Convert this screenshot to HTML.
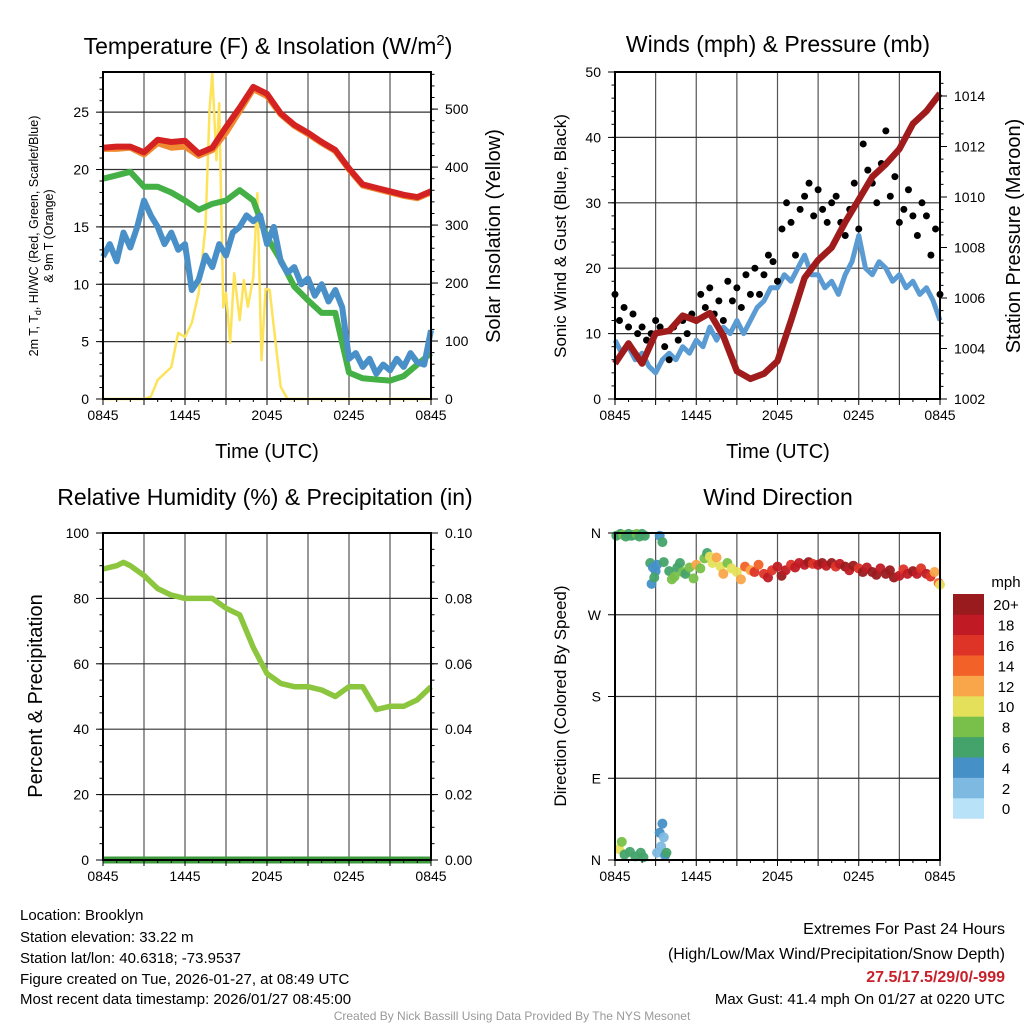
<!DOCTYPE html>
<html><head><meta charset="utf-8"><style>
html,body{margin:0;padding:0;background:#fff;width:1024px;height:1024px;overflow:hidden}
svg{display:block;font-family:"Liberation Sans",Arial,sans-serif}
</style></head><body>
<svg id="chart" width="1024" height="1024" viewBox="0 0 1024 1024" xmlns="http://www.w3.org/2000/svg">
<rect x="0" y="0" width="1024" height="1024" fill="#fff"/>
<g id="layer"></g>
</svg>
<script>
// ---------- DATA ----------
const xTickLabels = ["0845","1445","2045","0245","0845"];
const hourly = [0,1,2,3,4,5,6,7,8,9,10,11,12,13,14,15,16,17,18,19,20,21,22,23,24];
const halfHourly = [0,0.5,1,1.5,2,2.5,3,3.5,4,4.5,5,5.5,6,6.5,7,7.5,8,8.5,9,9.5,10,10.5,11,11.5,12,12.5,13,13.5,14,14.5,15,15.5,16,16.5,17,17.5,18,18.5,19,19.5,20,20.5,21,21.5,22,22.5,23,23.5,24];
const tempRed = [21.9,22.0,22.0,21.5,22.6,22.4,22.5,21.4,21.9,23.7,25.4,27.2,26.6,24.9,23.9,23.2,22.4,21.7,20.1,18.7,18.4,18.1,17.8,17.6,18.1];
const tempOrange = [21.8,21.8,21.9,21.3,22.3,21.9,22.0,21.2,21.7,23.2,25.1,27.0,26.4,24.8,23.8,23.1,22.3,21.6,20.0,18.6,18.3,18.0,17.7,17.5,18.0];
const dewGreen = [19.2,19.5,19.8,18.5,18.5,18.0,17.3,16.5,17.0,17.3,18.2,17.3,14.1,12.1,9.8,8.6,7.5,7.5,2.3,1.8,1.7,1.6,2.0,3.0,4.0];
const wcBlue = [12.4,13.5,12.0,14.5,13.2,15.0,17.3,16.0,15.0,13.5,14.5,13.0,13.5,9.5,10.4,12.5,11.5,13.5,12.5,14.5,15.0,16.0,15.5,16.0,13.5,15.0,12.0,11.0,11.5,10.0,10.5,9.0,10.0,8.5,9.5,8.0,3.5,4.0,2.8,3.5,2.2,3.0,2.5,3.5,2.8,4.0,3.2,3.0,6.0];
const solarT = [0,3,3.5,4,5,5.5,6,6.5,7,7.5,7.8,8.0,8.3,8.5,8.8,9.0,9.3,9.6,10.0,10.3,10.6,11.0,11.3,11.6,11.9,12.2,12.5,13.0,13.5,24];
const solarV = [0,0,4,33,55,114,107,131,183,297,500,562,412,510,158,183,97,217,136,205,159,210,355,67,190,188,124,21,0,0];
const windBlue = [9,7,8,6,7,5,4,6,7,6,8,7,9,8,11,9,11,10,12,10,12,14,15,17,17,19,18,20,22,19,19,17,18,16,19,21,25,20,19,21,20,18,19,17,18,16,17,15,12];
const gustT = [0,0.33,0.67,1,1.33,1.67,2,2.33,2.67,3,3.33,3.67,4,4.33,4.67,5,5.33,5.67,6,6.33,6.67,7,7.33,7.67,8,8.33,8.67,9,9.33,9.67,10,10.33,10.67,11,11.33,11.67,12,12.33,12.67,13,13.33,13.67,14,14.33,14.67,15,15.33,15.67,16,16.33,16.67,17,17.33,17.67,18,18.33,18.67,19,19.33,19.67,20,20.33,20.67,21,21.33,21.67,22,22.33,22.67,23,23.33,23.67,24];
const gustV = [16,12,14,11,13,10,11,9,10,12,11,8,6,11,9,12,10,13,12,16,14,17,13,15,12,18,15,17,14,19,16,20,16,19,22,21,18,26,30,27,22,29,31,33,28,32,29,27,30,31,27,25,29,33,26,39,35,33,30,36,41,31,34,27,29,32,28,25,30,28,22,26,16];
const pressure = [1003.4,1004.2,1003.4,1004.6,1004.7,1005.3,1005.1,1005.4,1004.5,1003.1,1002.8,1003.0,1003.5,1005.1,1006.8,1007.5,1008.0,1009.0,1009.9,1010.8,1011.3,1011.9,1012.9,1013.4,1014.1];
const rhT = [0,1,1.5,2,3,4,5,6,7,8,9,10,11,12,13,14,15,16,17,18,19,20,21,22,23,24];
const rhV = [89,90,91,90,87,83,81,80,80,80,77,75,65,57,54,53,53,52,50,53,53,46,47,47,49,53];
const precipV = [0,0,0,0,0,0,0,0,0,0,0,0,0,0,0,0,0,0,0,0,0,0,0,0,0];
const dirT = [0.1,0.4,0.6,0.8,1.0,1.2,1.4,1.6,1.8,2.0,2.2,0.3,0.5,0.7,1.1,1.5,1.9,2.1,3.1,3.3,3.5,3.6,3.4,3.7,3.8,3.3,3.5,2.6,2.8,3.0,2.7,2.9,3.1,3.6,4.0,4.2,4.4,4.6,4.8,5.0,5.2,5.5,5.8,6.0,6.3,6.6,6.8,7.0,7.2,7.5,7.8,8.0,8.3,8.6,9.0,9.3,9.6,10.0,10.3,10.6,11.0,11.3,11.6,12.0,12.3,12.6,13.0,13.3,13.6,14.0,14.3,14.6,15.0,15.3,15.6,16.0,16.3,16.6,17.0,17.3,17.6,18.0,18.3,18.6,19.0,19.3,19.6,20.0,20.3,20.6,21.0,21.3,21.6,22.0,22.3,22.6,23.0,23.3,23.6,23.9,24.0];
const dirDeg = [357,359,358,356,359,357,358,359,356,359,357,12,20,6,9,4,8,3,8,30,40,25,15,5,8,357,350,327,322,318,304,311,325,328,318,309,312,322,327,317,315,322,310,325,321,332,338,334,327,333,323,315,327,321,317,309,323,319,317,325,315,311,319,323,313,319,325,322,327,325,328,326,325,327,324,327,323,326,323,319,324,321,317,322,317,314,321,315,319,311,313,320,315,318,315,321,315,312,317,305,303];
const dirSpd = [7,7,8,6,7,7,6,8,7,6,7,10,8,6,7,6,7,6,3,4,4,2,2,4,6,4,6,6,4,4,4,6,4,6,6,8,8,6,6,8,6,8,8,12,8,8,6,10,10,12,10,12,8,10,10,12,14,12,16,14,16,18,16,18,20,18,16,18,18,18,20,16,18,20,18,20,16,18,20,18,20,16,20,18,20,20,18,20,20,20,18,16,18,20,18,16,18,16,12,14,10];
const speedColors = ["#b8e2f8","#7eb9e2","#4690c8","#44a36a","#78c04a","#e5e05a","#f9a54a","#f26228","#de3427","#c01b25","#9a1b1e"];
const speedLabels = ["0","2","4","6","8","10","12","14","16","18","20+"];

// ---------- HELPERS ----------
const NS = "http://www.w3.org/2000/svg";
const layer = document.getElementById("layer");
function mk(tag, attrs, parent){
  const e = document.createElementNS(NS, tag);
  for (const k in attrs) e.setAttribute(k, attrs[k]);
  (parent||layer).appendChild(e);
  return e;
}
function txt(s, x, y, size, anchor, parent, extra){
  const e = mk("text", Object.assign({x:x, y:y, "font-size":size, "text-anchor":anchor||"start", fill:"#000"}, extra||{}), parent);
  e.textContent = s;
  return e;
}
function pathFrom(xs, ys){
  let d = "";
  for (let i=0;i<xs.length;i++) d += (i?"L":"M") + xs[i].toFixed(1) + " " + ys[i].toFixed(1);
  return d;
}

function panel(x0, x1, y0, y1){ return {x0, x1, y0, y1, sx: t => x0 + t*(x1-x0)/24}; }
const P1 = panel(103, 431, 72, 399);
const P2 = panel(615, 940, 72, 399);
const P3 = panel(103, 431, 533, 860);
const P4 = panel(615, 940, 533, 860);

function linY(p, lo, hi){ return v => p.y1 - (v-lo)*(p.y1-p.y0)/(hi-lo); }

function drawGrid(p, yMajors, yScale, name){
  const g = mk("g", {});
  
  
  for (let h=3; h<24; h+=3){
    const gl = mk("line", {x1:p.sx(h), x2:p.sx(h), y1:p.y0, y2:p.y1, stroke:"#555", "stroke-width":1.2}, g);
    
    
  }
  yMajors.forEach(v => {
    const y = yScale(v);
    if (y > p.y0+1 && y < p.y1-1){
      const gl = mk("line", {x1:p.x0, x2:p.x1, y1:y, y2:y, stroke:"#333", "stroke-width":1.2}, g);
      
      
    }
  });
}
function drawFrame(p, name){
  const r = mk("rect", {x:p.x0, y:p.y0, width:p.x1-p.x0, height:p.y1-p.y0, fill:"none", stroke:"#000", "stroke-width":2});
  
  
}
function drawXAxis(p, name){
  const g = mk("g", {});
  
  
  for (let h=0; h<=24; h+=1){
    const len = (h%3===0)?6:3;
    mk("line", {x1:p.sx(h), x2:p.sx(h), y1:p.y1, y2:p.y1+len, stroke:"#000", "stroke-width":1}, g);
  }
  xTickLabels.forEach((s,i) => {
    const t = txt(s, p.sx(i*6), p.y1+21, 14, "middle", g);
    
    
  });
}
function drawYAxis(p, majors, labels, scale, side, minorStep, lo, hi, name){
  const g = mk("g", {});
  
  
  const xa = side==="left" ? p.x0 : p.x1;
  const dir = side==="left" ? -1 : 1;
  if (minorStep){
    for (let v=lo; v<=hi+1e-9; v+=minorStep){
      const y = scale(v);
      if (y < p.y0-0.5) continue;
      mk("line", {x1:xa, x2:xa+dir*3.5, y1:y, y2:y, stroke:"#000", "stroke-width":1}, g);
    }
  }
  majors.forEach((v,i) => {
    const y = scale(v);
    mk("line", {x1:xa, x2:xa+dir*7, y1:y, y2:y, stroke:"#000", "stroke-width":1}, g);
    const t = txt(labels[i], side==="left" ? xa-14 : xa+14, y+5, 14, side==="left" ? "end" : "start", g);
    
    
  });
}
function rotLabel(s, x, y, size, angle, name){
  const t = txt(s, x, y, size, "middle", layer, {transform:`rotate(${angle} ${x} ${y})`});
  
  
  return t;
}

// ---------- PANEL 1: Temperature ----------
const p1y = linY(P1, 0, 28.5);
const p1r = linY(P1, 0, 564);
drawGrid(P1, [0,5,10,15,20,25], p1y, "temperature");
(function(){
  const ySolar = mk("path", {d: pathFrom(solarT.map(P1.sx), solarV.map(p1r)), fill:"none", stroke:"#fde35a", "stroke-width":2.5, "stroke-linejoin":"round"});
  
  
  const g = mk("path", {d: pathFrom(hourly.map(P1.sx), dewGreen.map(p1y)), fill:"none", stroke:"#44b045", "stroke-width":6, "stroke-linejoin":"round"});
  
  
  const b = mk("path", {d: pathFrom(halfHourly.map(P1.sx), wcBlue.map(p1y)), fill:"none", stroke:"#4a90c8", "stroke-width":6, "stroke-linejoin":"round"});
  
  
  const o = mk("path", {d: pathFrom(hourly.map(P1.sx), tempOrange.map(p1y)), fill:"none", stroke:"#f08a30", "stroke-width":6, "stroke-linejoin":"round"});
  
  
  const r = mk("path", {d: pathFrom(hourly.map(P1.sx), tempRed.map(p1y)), fill:"none", stroke:"#d42121", "stroke-width":6, "stroke-linejoin":"round"});
  
  
})();
drawFrame(P1, "temperature");
drawXAxis(P1, "temperature");
drawYAxis(P1, [0,5,10,15,20,25], ["0","5","10","15","20","25"], p1y, "left", 1, 0, 28, "temperature-left-axis");
drawYAxis(P1, [0,100,200,300,400,500], ["0","100","200","300","400","500"], p1r, "right", 20, 0, 560, "insolation-right-axis");
(function(){
  const t = txt("", 268, 54, 23, "middle");
  
  
  t.innerHTML = 'Temperature (F) &amp; Insolation (W/m<tspan dy="-9" font-size="15">2</tspan><tspan dy="9">)</tspan>';
})();
(function(){
  const t = txt("", 38, 236, 12.5, "middle", layer, {transform:"rotate(-90 38 236)"});
  
  
  t.innerHTML = '2m T, T<tspan dy="3" font-size="9">d</tspan><tspan dy="-3">, HI/WC (Red, Green, Scarlet/Blue)</tspan>';
  const t2 = txt("& 9m T (Orange)", 53, 236, 12.5, "middle", layer, {transform:"rotate(-90 53 236)"});
  
  
})();
rotLabel("Solar Insolation (Yellow)", 500, 236, 20, -90, "insolation-axis-title");
(function(){ const t = txt("Time (UTC)", 267, 458, 20, "middle");   })();

// ---------- PANEL 2: Winds ----------
const p2y = linY(P2, 0, 50);
const p2r = linY(P2, 1002, 1014.95);
drawGrid(P2, [0,10,20,30,40,50], p2y, "winds");
(function(){
  const w = mk("path", {d: pathFrom(halfHourly.map(P2.sx), windBlue.map(p2y)), fill:"none", stroke:"#5a9bd3", "stroke-width":5, "stroke-linejoin":"round"});
  
  
  const gg = mk("g", {});
  
  
  gustT.forEach((t,i) => {
    const c = mk("circle", {cx:P2.sx(t), cy:p2y(gustV[i]), r:3.5, fill:"#000"}, gg);
    
    
  });
  const pr = mk("path", {d: pathFrom(hourly.map(P2.sx), pressure.map(p2r)), fill:"none", stroke:"#a01c1c", "stroke-width":6.5, "stroke-linejoin":"round"});
  
  
})();
drawFrame(P2, "winds");
drawXAxis(P2, "winds");
drawYAxis(P2, [0,10,20,30,40,50], ["0","10","20","30","40","50"], p2y, "left", 2, 0, 50, "wind-left-axis");
drawYAxis(P2, [1002,1004,1006,1008,1010,1012,1014], ["1002","1004","1006","1008","1010","1012","1014"], p2r, "right", 0.5, 1002, 1014.9, "pressure-right-axis");
(function(){ const t = txt("Winds (mph) & Pressure (mb)", 778, 52, 23, "middle");   })();
rotLabel("Sonic Wind & Gust (Blue, Black)", 566, 236, 17, -90, "wind-axis-title");
rotLabel("Station Pressure (Maroon)", 1020, 236, 20, -90, "pressure-axis-title");
(function(){ const t = txt("Time (UTC)", 778, 458, 20, "middle");   })();

// ---------- PANEL 3: RH ----------
const p3y = linY(P3, 0, 100);
const p3r = linY(P3, 0, 0.1);
drawGrid(P3, [0,20,40,60,80,100], p3y, "humidity");
(function(){
  const rh = mk("path", {d: pathFrom(rhT.map(P3.sx), rhV.map(p3y)), fill:"none", stroke:"#8cc63f", "stroke-width":5.5, "stroke-linejoin":"round"});
  
  
  const pc = mk("path", {d: pathFrom(hourly.map(P3.sx), precipV.map(p3r)), fill:"none", stroke:"#3c9a3c", "stroke-width":7});
  
  
})();
drawFrame(P3, "humidity");
drawXAxis(P3, "humidity");
drawYAxis(P3, [0,20,40,60,80,100], ["0","20","40","60","80","100"], p3y, "left", 5, 0, 100, "humidity-left-axis");
drawYAxis(P3, [0,0.02,0.04,0.06,0.08,0.1], ["0.00","0.02","0.04","0.06","0.08","0.10"], p3r, "right", 0.005, 0, 0.1, "precip-right-axis");
(function(){ const t = txt("Relative Humidity (%) & Precipitation (in)", 265, 505, 23, "middle");   })();
rotLabel("Percent & Precipitation", 42, 696, 20, -90, "humidity-axis-title");

// ---------- PANEL 4: Wind direction ----------
const p4y = linY(P4, 0, 360);
drawGrid(P4, [0,90,180,270,360], p4y, "direction");
(function(){
  const g = mk("g", {});
  
  
  dirT.forEach((t,i) => {
    const bin = Math.min(10, Math.floor(dirSpd[i]/2));
    const c = mk("circle", {cx:P4.sx(t), cy:p4y(dirDeg[i]), r:5, fill:speedColors[bin], "fill-opacity":0.95}, g);
    
    
  });
})();
drawFrame(P4, "direction");
drawXAxis(P4, "direction");
drawYAxis(P4, [0,90,180,270,360], ["N","E","S","W","N"], p4y, "left", 0, 0, 360, "direction-left-axis");
(function(){ const t = txt("Wind Direction", 778, 505, 23, "middle");   })();
rotLabel("Direction (Colored By Speed)", 566, 696, 17, -90, "direction-axis-title");
(function(){
  const g = mk("g", {});
  
  
  const top = 594, h = 20.4;
  speedColors.forEach((c,i) => {
    const idx = 10 - i;
    const r = mk("rect", {x:953, y:top + idx*h, width:31, height:h+0.3, fill:c}, g);
    
    
    const t = txt(speedLabels[i], 1006, top + idx*h + h/2 + 6, 15, "middle", g);
    
    
  });
  const u = txt("mph", 1006, 587, 15, "middle", g);
  
  
})();

// ---------- FOOTER TEXT ----------
(function(){
  const left = ["Location: Brooklyn","Station elevation: 33.22 m","Station lat/lon: 40.6318; -73.9537","Figure created on Tue, 2026-01-27, at 08:49 UTC","Most recent data timestamp: 2026/01/27 08:45:00"];
  const ys = [920, 942, 963, 984, 1004];
  left.forEach((s,i) => {
    const t = txt(s, 20, ys[i], 15, "start");
    
    
  });
  const r1 = txt("Extremes For Past 24 Hours", 1005, 934, 16, "end");
  
  
  const r2 = txt("(High/Low/Max Wind/Precipitation/Snow Depth)", 1005, 959, 16, "end");
  
  
  const r3 = txt("27.5/17.5/29/0/-999", 1005, 982, 16, "end", layer, {fill:"#c8202a", "font-weight":"bold"});
  
  
  const r4 = txt("Max Gust: 41.4 mph On 01/27 at 0220 UTC", 1005, 1004, 15, "end");
  
  
  const c = txt("Created By Nick Bassill Using Data Provided By The NYS Mesonet", 512, 1020, 12, "middle", layer, {fill:"#999"});
  
  
})();
</script>
</body></html>
